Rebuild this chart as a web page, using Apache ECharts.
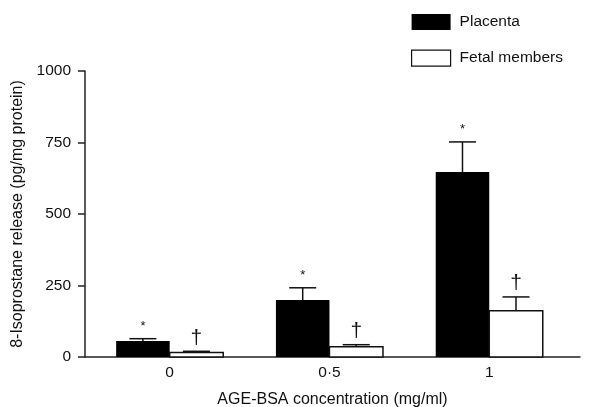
<!DOCTYPE html>
<html>
<head>
<meta charset="utf-8">
<script src="https://cdn.jsdelivr.net/npm/echarts@6/dist/echarts.min.js"></script>
<style>html,body{margin:0;padding:0;background:#fff;}#c{width:590px;height:407px;}</style>
</head>
<body>
<div id="c"></div>
<script>
var categories = ['0', '0·5', '1'];
var placenta = [56, 199, 647];
var placentaErrTop = [64, 242, 752];
var fetal = [16, 36, 162];
var fetalErrTop = [20, 43, 210];
var yTicks = [0, 250, 500, 750, 1000];

var FONT = 'Liberation Sans, Arial, sans-serif';
var BW = 0.335;

function makeData(vals, errs) {
  return vals.map(function (v, i) { return [i, v, errs[i]]; });
}

function renderer(offset, filled, mark) {
  return function (params, api) {
    var i = api.value(0), v = api.value(1), e = api.value(2);
    var cx = i + offset;
    var p1 = api.coord([cx - BW / 2, v]);
    var p2 = api.coord([cx + BW / 2, 0]);
    var top = api.coord([cx, v]);
    var et = api.coord([cx, e]);
    var children = [
      {
        type: 'rect',
        shape: { x: p1[0], y: p1[1], width: p2[0] - p1[0], height: p2[1] - p1[1] },
        style: filled ? { fill: '#000' } : { fill: '#fff', stroke: '#111', lineWidth: 1.5 }
      },
      {
        type: 'line',
        shape: { x1: top[0], y1: top[1], x2: et[0], y2: et[1] },
        style: { stroke: '#111', lineWidth: 1.5 }
      },
      {
        type: 'line',
        shape: { x1: et[0] - 13.5, y1: et[1], x2: et[0] + 13.5, y2: et[1] },
        style: { stroke: '#111', lineWidth: 1.5 }
      },
      {
        type: 'text',
        style: mark === '*' ?
          { text: '*', x: et[0], y: et[1] - 6, fontSize: 13, fontFamily: FONT, fill: '#111', align: 'center', verticalAlign: 'bottom' } :
          { text: '†', x: et[0], y: et[1] - 3, fontSize: 21, fontFamily: FONT, fill: '#111', align: 'center', verticalAlign: 'bottom' }
      }
    ];
    return { type: 'group', children: children };
  };
}

var chart = echarts.init(document.getElementById('c'), null, { renderer: 'canvas' });
chart.setOption({
  animation: false,
  backgroundColor: '#fff',
  textStyle: { fontFamily: FONT },
  grid: { left: 85, right: 10, top: 71, bottom: 50, containLabel: false, outerBoundsMode: 'none' },
  legend: {
    orient: 'vertical',
    left: 411, top: 14, padding: 0,
    itemWidth: 39, itemHeight: 16, itemGap: 19.5,
    icon: 'rect',
    textStyle: { fontSize: 15.5, color: '#111', fontFamily: FONT, padding: [0, 0, 0, 4] },
    selectedMode: false,
    data: [
      { name: 'Placenta', itemStyle: { color: '#000', borderWidth: 0 } },
      { name: 'Fetal members', itemStyle: { color: '#fff', borderColor: '#111', borderWidth: 1.2 } }
    ]
  },
  xAxis: {
    type: 'value',
    min: -0.53, max: 2.568,
    name: 'AGE-BSA concentration (mg/ml)',
    nameLocation: 'middle', nameGap: 35,
    nameTextStyle: { fontSize: 16, color: '#111', fontFamily: FONT },
    axisLine: { show: true, onZero: false, lineStyle: { color: '#222', width: 1.5 } },
    axisTick: { show: false },
    splitLine: { show: false },
    axisLabel: {
      customValues: [0, 1, 2],
      formatter: function (v) { return categories[Math.round(v)]; },
      fontSize: 15.5, color: '#111', margin: 8, fontFamily: FONT
    }
  },
  yAxis: {
    type: 'value',
    min: 0, max: 1000, interval: 250,
    name: '8-Isoprostane release (pg/mg protein)',
    nameLocation: 'middle', nameGap: 49, nameRotate: 90,
    nameTextStyle: { fontSize: 16, color: '#111', fontFamily: FONT },
    axisLine: { show: true, onZero: false, lineStyle: { color: '#222', width: 1.5 } },
    axisTick: { show: true, length: 7, lineStyle: { color: '#222', width: 1.5 } },
    splitLine: { show: false },
    axisLabel: {
      customValues: yTicks,
      formatter: function (v) { return String(v); },
      fontSize: 15.5, color: '#111', margin: 14, fontFamily: FONT
    }
  },
  series: [
    {
      name: 'Placenta', type: 'custom', renderItem: renderer(-BW / 2, true, '*'),
      itemStyle: { color: '#000' },
      encode: { x: 0, y: [1, 2] },
      data: makeData(placenta, placentaErrTop), z: 1
    },
    {
      name: 'Fetal members', type: 'custom', renderItem: renderer(BW / 2, false, '†'),
      itemStyle: { color: '#fff' },
      encode: { x: 0, y: [1, 2] },
      data: makeData(fetal, fetalErrTop), z: 1
    }
  ]
});
</script>
</body>
</html>
